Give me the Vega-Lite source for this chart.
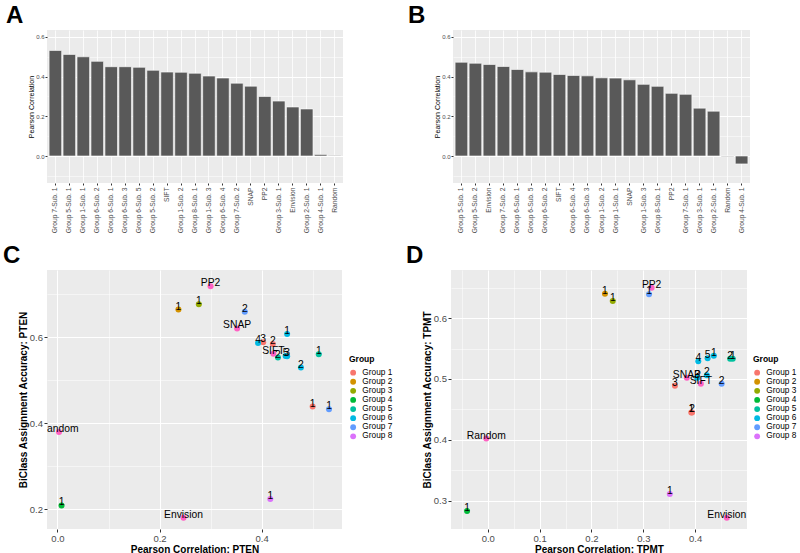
{
  "$schema": "https://vega.github.io/schema/vega-lite/v6.json",
  "padding": {"left": 3, "top": 4, "right": 0, "bottom": 0},
  "background": "white",
  "datasets": {
    "barA": [
      {"m": "Group 7-Sub. 1", "r": 0.532},
      {"m": "Group 5-Sub. 1", "r": 0.512},
      {"m": "Group 1-Sub. 1", "r": 0.500},
      {"m": "Group 6-Sub. 2", "r": 0.477},
      {"m": "Group 6-Sub. 1", "r": 0.450},
      {"m": "Group 6-Sub. 3", "r": 0.450},
      {"m": "Group 6-Sub. 5", "r": 0.447},
      {"m": "Group 5-Sub. 2", "r": 0.432},
      {"m": "SIFT", "r": 0.423},
      {"m": "Group 1-Sub. 2", "r": 0.422},
      {"m": "Group 8-Sub. 1", "r": 0.417},
      {"m": "Group 1-Sub. 3", "r": 0.403},
      {"m": "Group 6-Sub. 4", "r": 0.393},
      {"m": "Group 7-Sub. 2", "r": 0.367},
      {"m": "SNAP", "r": 0.352},
      {"m": "PP2", "r": 0.300},
      {"m": "Group 3-Sub. 1", "r": 0.277},
      {"m": "Envision", "r": 0.247},
      {"m": "Group 2-Sub. 1", "r": 0.237},
      {"m": "Group 4-Sub. 1", "r": 0.008},
      {"m": "Random", "r": 0.003}
    ],
    "barB": [
      {"m": "Group 5-Sub. 1", "r": 0.4725},
      {"m": "Group 5-Sub. 2", "r": 0.4675},
      {"m": "Envision", "r": 0.461},
      {"m": "Group 7-Sub. 2", "r": 0.451},
      {"m": "Group 6-Sub. 1", "r": 0.436},
      {"m": "Group 6-Sub. 5", "r": 0.424},
      {"m": "Group 6-Sub. 2", "r": 0.4225},
      {"m": "SIFT", "r": 0.411},
      {"m": "Group 6-Sub. 4", "r": 0.406},
      {"m": "Group 6-Sub. 3", "r": 0.404},
      {"m": "Group 1-Sub. 2", "r": 0.394},
      {"m": "Group 1-Sub. 1", "r": 0.3925},
      {"m": "SNAP", "r": 0.384},
      {"m": "Group 1-Sub. 3", "r": 0.361},
      {"m": "Group 8-Sub. 1", "r": 0.351},
      {"m": "PP2", "r": 0.316},
      {"m": "Group 7-Sub. 1", "r": 0.311},
      {"m": "Group 3-Sub. 1", "r": 0.241},
      {"m": "Group 2-Sub. 1", "r": 0.226},
      {"m": "Random", "r": -0.003},
      {"m": "Group 4-Sub. 1", "r": -0.040}
    ],
    "ptsC": [
      {"g": "Group 1", "lab": "1", "x": 0.500, "y": 0.439},
      {"g": "Group 1", "lab": "2", "x": 0.422, "y": 0.585},
      {"g": "Group 1", "lab": "3", "x": 0.403, "y": 0.589},
      {"g": "Group 2", "lab": "1", "x": 0.237, "y": 0.665},
      {"g": "Group 3", "lab": "1", "x": 0.277, "y": 0.677},
      {"g": "Group 4", "lab": "1", "x": 0.008, "y": 0.209},
      {"g": "Group 5", "lab": "1", "x": 0.512, "y": 0.561},
      {"g": "Group 5", "lab": "2", "x": 0.432, "y": 0.553},
      {"g": "Group 6", "lab": "1", "x": 0.450, "y": 0.608},
      {"g": "Group 6", "lab": "2", "x": 0.477, "y": 0.530},
      {"g": "Group 6", "lab": "3", "x": 0.450, "y": 0.556},
      {"g": "Group 6", "lab": "4", "x": 0.393, "y": 0.587},
      {"g": "Group 6", "lab": "5", "x": 0.447, "y": 0.557},
      {"g": "Group 7", "lab": "1", "x": 0.532, "y": 0.433},
      {"g": "Group 7", "lab": "2", "x": 0.367, "y": 0.660},
      {"g": "Group 8", "lab": "1", "x": 0.417, "y": 0.224},
      {"g": "Tool", "lab": "PP2", "x": 0.300, "y": 0.719},
      {"g": "Tool", "lab": "SNAP", "x": 0.352, "y": 0.621},
      {"g": "Tool", "lab": "SIFT", "x": 0.423, "y": 0.562},
      {"g": "Tool", "lab": "Envision", "x": 0.247, "y": 0.180},
      {"g": "Tool", "lab": "Random", "x": 0.003, "y": 0.380}
    ],
    "ptsD": [
      {"g": "Group 1", "lab": "1", "x": 0.3925, "y": 0.445},
      {"g": "Group 1", "lab": "2", "x": 0.394, "y": 0.445},
      {"g": "Group 1", "lab": "3", "x": 0.361, "y": 0.489},
      {"g": "Group 2", "lab": "1", "x": 0.226, "y": 0.640},
      {"g": "Group 3", "lab": "1", "x": 0.241, "y": 0.628},
      {"g": "Group 4", "lab": "1", "x": -0.040, "y": 0.283},
      {"g": "Group 5", "lab": "1", "x": 0.4725, "y": 0.533},
      {"g": "Group 5", "lab": "2", "x": 0.4675, "y": 0.533},
      {"g": "Group 6", "lab": "1", "x": 0.436, "y": 0.538},
      {"g": "Group 6", "lab": "2", "x": 0.4225, "y": 0.506},
      {"g": "Group 6", "lab": "3", "x": 0.404, "y": 0.502},
      {"g": "Group 6", "lab": "4", "x": 0.406, "y": 0.529},
      {"g": "Group 6", "lab": "5", "x": 0.424, "y": 0.534},
      {"g": "Group 7", "lab": "1", "x": 0.311, "y": 0.639},
      {"g": "Group 7", "lab": "2", "x": 0.451, "y": 0.492},
      {"g": "Group 8", "lab": "1", "x": 0.351, "y": 0.311},
      {"g": "Tool", "lab": "PP2", "x": 0.316, "y": 0.650},
      {"g": "Tool", "lab": "SNAP", "x": 0.384, "y": 0.502},
      {"g": "Tool", "lab": "SIFT", "x": 0.411, "y": 0.492},
      {"g": "Tool", "lab": "Envision", "x": 0.461, "y": 0.272},
      {"g": "Tool", "lab": "Random", "x": -0.003, "y": 0.402}
    ]
  },
  "vconcat": [
    {
      "hconcat": [
        {
          "width": 296, "height": 153,
          "title": {"text": "A", "dx": -41},
          "data": {"name": "barA"},
          "mark": {"type": "bar", "fill": "#595959", "stroke": "white", "strokeWidth": 0.6},
          "encoding": {
            "x": {"field": "m", "type": "nominal", "sort": null,
                  "scale": {"paddingInner": 0.1, "paddingOuter": 0.15},
                  "axis": {"title": null, "labelAngle": -90, "labelFontSize": 6.7, "labelPadding": 2, "tickSize": 2, "bandPosition": 0.5, "gridWidth": 0.8}},
            "y": {"field": "r", "type": "quantitative",
                  "scale": {"domain": [-0.136, 0.635], "nice": false, "zero": false},
                  "axis": {"title": "Pearson Correlation", "titleFontSize": 7, "titleFontWeight": "normal", "titlePadding": 1,
                           "values": [-0.1, 0, 0.1, 0.2, 0.3, 0.4, 0.5, 0.6],
                           "labelExpr": "round(datum.value*10) % 2 != 0 ? '' : format(datum.value, '.1f')",
                           "labelFontSize": 6, "labelPadding": 1, "tickSize": 2,
                           "gridWidth": {"condition": {"test": "round(datum.value*10) % 2 != 0", "value": 0.5}, "value": 1},
                           "tickOpacity": {"condition": {"test": "round(datum.value*10) % 2 != 0", "value": 0}, "value": 1}}}
          }
        },
        {
          "width": 297, "height": 153,
          "title": {"text": "B", "dx": -45},
          "data": {"name": "barB"},
          "mark": {"type": "bar", "fill": "#595959", "stroke": "white", "strokeWidth": 0.6},
          "encoding": {
            "x": {"field": "m", "type": "nominal", "sort": null,
                  "scale": {"paddingInner": 0.1, "paddingOuter": 0.15},
                  "axis": {"title": null, "labelAngle": -90, "labelFontSize": 6.7, "labelPadding": 2, "tickSize": 2, "bandPosition": 0.5, "gridWidth": 0.8}},
            "y": {"field": "r", "type": "quantitative",
                  "scale": {"domain": [-0.136, 0.635], "nice": false, "zero": false},
                  "axis": {"title": "Pearson Correlation", "titleFontSize": 7, "titleFontWeight": "normal", "titlePadding": 1,
                           "values": [-0.1, 0, 0.1, 0.2, 0.3, 0.4, 0.5, 0.6],
                           "labelExpr": "round(datum.value*10) % 2 != 0 ? '' : format(datum.value, '.1f')",
                           "labelFontSize": 6, "labelPadding": 1, "tickSize": 2,
                           "gridWidth": {"condition": {"test": "round(datum.value*10) % 2 != 0", "value": 0.5}, "value": 1},
                           "tickOpacity": {"condition": {"test": "round(datum.value*10) % 2 != 0", "value": 0}, "value": 1}}}
          }
        }
      ],
      "spacing": 65
    },
    {
      "hconcat": [
        {
          "width": 295, "height": 259,
          "title": {"text": "C", "dx": -44},
          "data": {"name": "ptsC"},
          "encoding": {
            "x": {"field": "x", "type": "quantitative",
                  "scale": {"domain": [-0.0205, 0.5575], "nice": false, "zero": false},
                  "axis": {"title": "Pearson Correlation: PTEN",
                           "values": [0, 0.1, 0.2, 0.3, 0.4, 0.5],
                           "labelExpr": "round(datum.value*10) % 2 != 0 ? '' : format(datum.value, '.1f')",
                           "gridWidth": {"condition": {"test": "round(datum.value*10) % 2 != 0", "value": 0.5}, "value": 1},
                           "tickOpacity": {"condition": {"test": "round(datum.value*10) % 2 != 0", "value": 0}, "value": 1}}},
            "y": {"field": "y", "type": "quantitative",
                  "scale": {"domain": [0.154, 0.757], "nice": false, "zero": false},
                  "axis": {"title": "BiClass Assignment Accuracy: PTEN",
                           "values": [0.2, 0.3, 0.4, 0.5, 0.6, 0.7],
                           "labelExpr": "round(datum.value*10) % 2 != 0 ? '' : format(datum.value, '.1f')",
                           "gridWidth": {"condition": {"test": "round(datum.value*10) % 2 != 0", "value": 0.5}, "value": 1},
                           "tickOpacity": {"condition": {"test": "round(datum.value*10) % 2 != 0", "value": 0}, "value": 1}}}
          },
          "layer": [
            {
              "mark": {"type": "point", "filled": true, "size": 36, "opacity": 1, "shape": "circle"},
              "encoding": {
                "color": {"field": "g", "type": "nominal",
                          "scale": {"domain": ["Group 1", "Group 2", "Group 3", "Group 4", "Group 5", "Group 6", "Group 7", "Group 8", "Tool"],
                                    "range": ["#F8766D", "#D39200", "#93AA00", "#00BA38", "#00C19F", "#00B9E3", "#619CFF", "#DB72FB", "#FF61C3"]},
                          "legend": {"title": "Group", "orient": "none", "legendX": 302, "legendY": 85,
                                     "values": ["Group 1", "Group 2", "Group 3", "Group 4", "Group 5", "Group 6", "Group 7", "Group 8"]}}
              }
            },
            {
              "mark": {"type": "text", "fontSize": 10.3, "baseline": "alphabetic", "align": "center", "color": "black", "clip": true},
              "encoding": {"text": {"field": "lab"}}
            }
          ]
        },
        {
          "width": 296, "height": 259,
          "title": {"text": "D", "dx": -45},
          "data": {"name": "ptsD"},
          "encoding": {
            "x": {"field": "x", "type": "quantitative",
                  "scale": {"domain": [-0.071, 0.5], "nice": false, "zero": false},
                  "axis": {"title": "Pearson Correlation: TPMT",
                           "values": [-0.05, 0, 0.05, 0.1, 0.15, 0.2, 0.25, 0.3, 0.35, 0.4, 0.45],
                           "labelExpr": "round(datum.value*20) % 2 != 0 ? '' : format(datum.value, '.1f')",
                           "gridWidth": {"condition": {"test": "round(datum.value*20) % 2 != 0", "value": 0.5}, "value": 1},
                           "tickOpacity": {"condition": {"test": "round(datum.value*20) % 2 != 0", "value": 0}, "value": 1}}},
            "y": {"field": "y", "type": "quantitative",
                  "scale": {"domain": [0.2535, 0.679], "nice": false, "zero": false},
                  "axis": {"title": "BiClass Assignment Accuracy: TPMT",
                           "values": [0.25, 0.3, 0.35, 0.4, 0.45, 0.5, 0.55, 0.6, 0.65],
                           "labelExpr": "round(datum.value*20) % 2 != 0 ? '' : format(datum.value, '.1f')",
                           "gridWidth": {"condition": {"test": "round(datum.value*20) % 2 != 0", "value": 0.5}, "value": 1},
                           "tickOpacity": {"condition": {"test": "round(datum.value*20) % 2 != 0", "value": 0}, "value": 1}}}
          },
          "layer": [
            {
              "mark": {"type": "point", "filled": true, "size": 36, "opacity": 1, "shape": "circle"},
              "encoding": {
                "color": {"field": "g", "type": "nominal",
                          "scale": {"domain": ["Group 1", "Group 2", "Group 3", "Group 4", "Group 5", "Group 6", "Group 7", "Group 8", "Tool"],
                                    "range": ["#F8766D", "#D39200", "#93AA00", "#00BA38", "#00C19F", "#00B9E3", "#619CFF", "#DB72FB", "#FF61C3"]},
                          "legend": {"title": "Group", "orient": "none", "legendX": 302, "legendY": 85,
                                     "values": ["Group 1", "Group 2", "Group 3", "Group 4", "Group 5", "Group 6", "Group 7", "Group 8"]}}
              }
            },
            {
              "mark": {"type": "text", "fontSize": 10.3, "baseline": "alphabetic", "align": "center", "color": "black", "clip": true},
              "encoding": {"text": {"field": "lab"}}
            }
          ]
        }
      ],
      "spacing": 13,
      "resolve": {"scale": {"color": "independent"}, "legend": {"color": "independent"}}
    }
  ],
  "spacing": 11,
  "config": {
    "font": "Liberation Sans",
    "view": {"fill": "#EBEBEB", "stroke": null},
    "axis": {"domain": false, "grid": true, "gridColor": "#FFFFFF", "tickColor": "#333333", "tickSize": 3, "labelColor": "#4D4D4D",
             "labelFont": "Liberation Sans", "labelFontSize": 9.5, "labelPadding": 1.5,
             "titleFont": "Liberation Sans", "titleFontSize": 10, "titleFontWeight": "bold", "titleColor": "#000000", "titlePadding": 1},
    "legend": {"titleFont": "Liberation Sans", "titleFontSize": 8.5, "titleFontWeight": "bold", "titleColor": "#000000", "titlePadding": 5,
               "labelFont": "Liberation Sans", "labelFontSize": 8.3, "labelColor": "#000000", "labelOffset": 5,
               "symbolType": "circle", "symbolSize": 34, "symbolStrokeWidth": 0, "rowPadding": 0.1, "padding": 0},
    "title": {"anchor": "start", "frame": "group", "fontSize": 24, "fontWeight": "bold", "font": "Liberation Sans", "color": "#000000", "offset": 2}
  }
}
